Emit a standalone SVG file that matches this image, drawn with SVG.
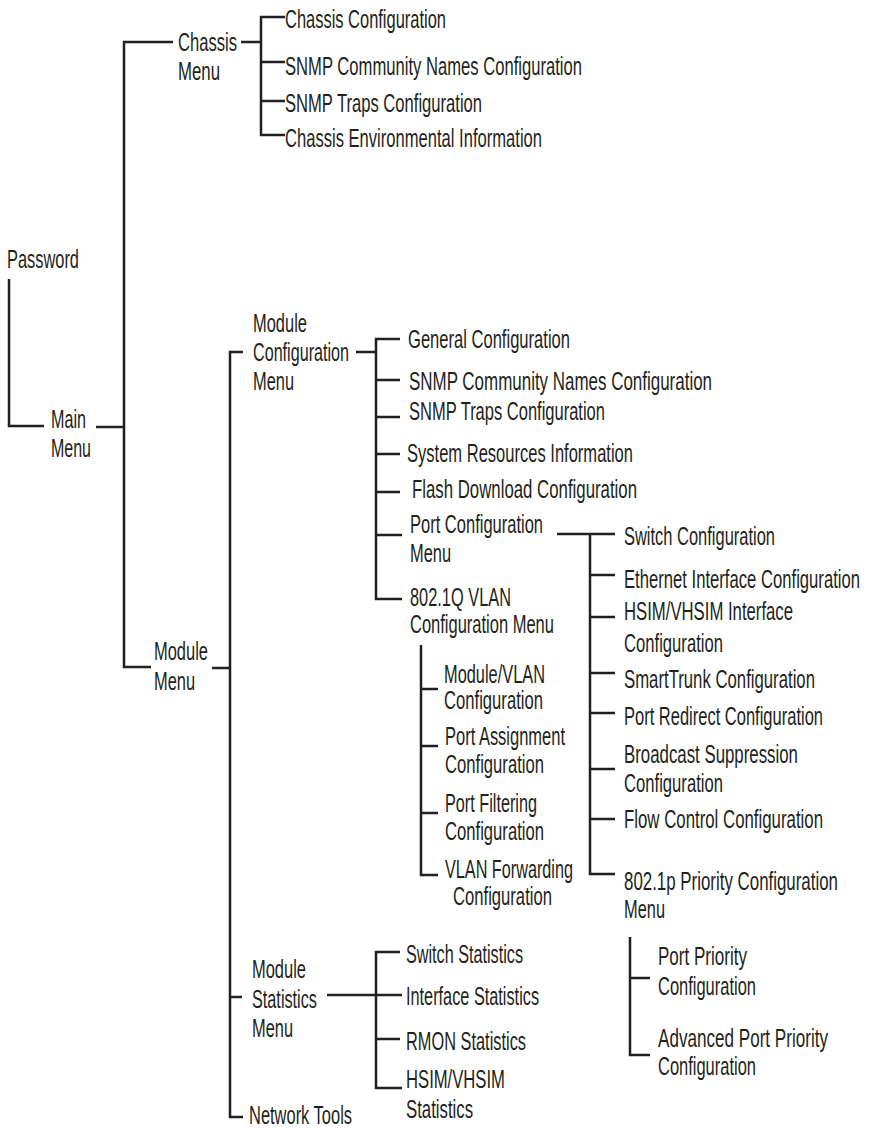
<svg xmlns="http://www.w3.org/2000/svg" width="871" height="1128" viewBox="0 0 871 1128">
<style>
.t { font-family: "Liberation Sans", Arial, Helvetica, sans-serif; font-size: 25px; fill: #231f20; }
.c path { stroke: #231f20; stroke-width: 2.5; fill: none; stroke-linecap: butt; stroke-linejoin: miter; }
</style>
<rect width="871" height="1128" fill="#ffffff"/>
<g id="connectors" class="c">
<path d="M9,279 V426 H44"/>
<path d="M96,427 H124"/>
<path d="M173,42 H124 V667 H151"/>
<path d="M241,42 H261"/>
<path d="M285,17 H261 V135 H285 M261,62 H285 M261,101 H285"/>
<path d="M212,668 H230"/>
<path d="M243,352 H230 V1117 H243 M230,997 H242"/>
<path d="M356,352 H376"/>
<path d="M400,339 H376 V599 H402 M376,380 H400 M376,417 H400 M376,454 H400 M376,492 H400 M376,535 H402"/>
<path d="M557,534 H615 M590,534 V874 H615 M590,575 H615 M590,617 H615 M590,673 H615 M590,713 H615 M590,769 H615 M590,819 H615"/>
<path d="M421,645 V875 H438 M421,689 H438 M421,746 H438 M421,813 H438"/>
<path d="M630,937 V1055 H650 M630,978 H650"/>
<path d="M327,995 H402 M400,952 H376 V1088 H402 M376,1039 H400"/>
</g>
<g id="password"><text class="t" transform="translate(7,0) scale(0.655,1)" x="0" y="268" textLength="109.9" lengthAdjust="spacingAndGlyphs">Password</text></g>
<g id="main-menu"><text class="t" transform="translate(51,0) scale(0.655,1)"><tspan x="0" y="428" textLength="53.4" lengthAdjust="spacingAndGlyphs">Main</tspan><tspan x="0" y="457" textLength="61.1" lengthAdjust="spacingAndGlyphs">Menu</tspan></text></g>
<g id="chassis-menu"><text class="t" transform="translate(178,0) scale(0.655,1)"><tspan x="0" y="51" textLength="90.1" lengthAdjust="spacingAndGlyphs">Chassis</tspan><tspan x="0" y="80" textLength="64.1" lengthAdjust="spacingAndGlyphs">Menu</tspan></text></g>
<g id="chassis-config"><text class="t" transform="translate(285,0) scale(0.655,1)" x="0" y="28" textLength="245.8" lengthAdjust="spacingAndGlyphs">Chassis Configuration</text></g>
<g id="chassis-snmp-community"><text class="t" transform="translate(285,0) scale(0.655,1)" x="0" y="75" textLength="453.4" lengthAdjust="spacingAndGlyphs">SNMP Community Names Configuration</text></g>
<g id="chassis-snmp-traps"><text class="t" transform="translate(285,0) scale(0.655,1)" x="0" y="112" textLength="300.8" lengthAdjust="spacingAndGlyphs">SNMP Traps Configuration</text></g>
<g id="chassis-env"><text class="t" transform="translate(285,0) scale(0.655,1)" x="0" y="147" textLength="392.4" lengthAdjust="spacingAndGlyphs">Chassis Environmental Information</text></g>
<g id="module-menu"><text class="t" transform="translate(154,0) scale(0.655,1)"><tspan x="0" y="660" textLength="82.4" lengthAdjust="spacingAndGlyphs">Module</tspan><tspan x="0" y="690" textLength="62.6" lengthAdjust="spacingAndGlyphs">Menu</tspan></text></g>
<g id="module-config-menu"><text class="t" transform="translate(253,0) scale(0.655,1)"><tspan x="0" y="332" textLength="82.4" lengthAdjust="spacingAndGlyphs">Module</tspan><tspan x="0" y="361" textLength="146.6" lengthAdjust="spacingAndGlyphs">Configuration</tspan><tspan x="0" y="390" textLength="62.6" lengthAdjust="spacingAndGlyphs">Menu</tspan></text></g>
<g id="general-config"><text class="t" transform="translate(408,0) scale(0.655,1)" x="0" y="348" textLength="247.3" lengthAdjust="spacingAndGlyphs">General Configuration</text></g>
<g id="module-snmp-community"><text class="t" transform="translate(409,0) scale(0.655,1)" x="0" y="390" textLength="462.6" lengthAdjust="spacingAndGlyphs">SNMP Community Names Configuration</text></g>
<g id="module-snmp-traps"><text class="t" transform="translate(409,0) scale(0.655,1)" x="0" y="420" textLength="299.2" lengthAdjust="spacingAndGlyphs">SNMP Traps Configuration</text></g>
<g id="system-resources"><text class="t" transform="translate(407,0) scale(0.655,1)" x="0" y="462" textLength="345" lengthAdjust="spacingAndGlyphs">System Resources Information</text></g>
<g id="flash-download"><text class="t" transform="translate(412,0) scale(0.655,1)" x="0" y="498" textLength="343.5" lengthAdjust="spacingAndGlyphs">Flash Download Configuration</text></g>
<g id="port-config-menu"><text class="t" transform="translate(410,0) scale(0.655,1)"><tspan x="0" y="533" textLength="203.1" lengthAdjust="spacingAndGlyphs">Port Configuration</tspan><tspan x="0" y="562" textLength="62.6" lengthAdjust="spacingAndGlyphs">Menu</tspan></text></g>
<g id="vlan-config-menu"><text class="t" transform="translate(410,0) scale(0.655,1)"><tspan x="0" y="606" textLength="154.2" lengthAdjust="spacingAndGlyphs">802.1Q VLAN</tspan><tspan x="0" y="633" textLength="219.8" lengthAdjust="spacingAndGlyphs">Configuration Menu</tspan></text></g>
<g id="switch-config"><text class="t" transform="translate(624,0) scale(0.655,1)" x="0" y="545" textLength="230.5" lengthAdjust="spacingAndGlyphs">Switch Configuration</text></g>
<g id="ethernet-config"><text class="t" transform="translate(624,0) scale(0.655,1)" x="0" y="588" textLength="360.3" lengthAdjust="spacingAndGlyphs">Ethernet Interface Configuration</text></g>
<g id="hsim-interface-config"><text class="t" transform="translate(624,0) scale(0.655,1)"><tspan x="0" y="620" textLength="258" lengthAdjust="spacingAndGlyphs">HSIM/VHSIM Interface</tspan><tspan x="0" y="652" textLength="151.1" lengthAdjust="spacingAndGlyphs">Configuration</tspan></text></g>
<g id="smarttrunk-config"><text class="t" transform="translate(624,0) scale(0.655,1)" x="0" y="688" textLength="291.6" lengthAdjust="spacingAndGlyphs">SmartTrunk Configuration</text></g>
<g id="port-redirect-config"><text class="t" transform="translate(624,0) scale(0.655,1)" x="0" y="725" textLength="303.8" lengthAdjust="spacingAndGlyphs">Port Redirect Configuration</text></g>
<g id="broadcast-config"><text class="t" transform="translate(624,0) scale(0.655,1)"><tspan x="0" y="763" textLength="265.6" lengthAdjust="spacingAndGlyphs">Broadcast Suppression</tspan><tspan x="0" y="792" textLength="151.1" lengthAdjust="spacingAndGlyphs">Configuration</tspan></text></g>
<g id="flow-control-config"><text class="t" transform="translate(624,0) scale(0.655,1)" x="0" y="828" textLength="303.8" lengthAdjust="spacingAndGlyphs">Flow Control Configuration</text></g>
<g id="priority-config-menu"><text class="t" transform="translate(624,0) scale(0.655,1)"><tspan x="0" y="890" textLength="326.7" lengthAdjust="spacingAndGlyphs">802.1p Priority Configuration</tspan><tspan x="0" y="918" textLength="62.6" lengthAdjust="spacingAndGlyphs">Menu</tspan></text></g>
<g id="module-vlan-config"><text class="t" transform="translate(444,0) scale(0.655,1)"><tspan x="0" y="683" textLength="154.2" lengthAdjust="spacingAndGlyphs">Module/VLAN</tspan><tspan x="0" y="709" textLength="151.1" lengthAdjust="spacingAndGlyphs">Configuration</tspan></text></g>
<g id="port-assignment-config"><text class="t" transform="translate(445,0) scale(0.655,1)"><tspan x="0" y="745" textLength="183.2" lengthAdjust="spacingAndGlyphs">Port Assignment</tspan><tspan x="0" y="773" textLength="151.1" lengthAdjust="spacingAndGlyphs">Configuration</tspan></text></g>
<g id="port-filtering-config"><text class="t" transform="translate(445,0) scale(0.655,1)"><tspan x="0" y="812" textLength="140.5" lengthAdjust="spacingAndGlyphs">Port Filtering</tspan><tspan x="0" y="840" textLength="151.1" lengthAdjust="spacingAndGlyphs">Configuration</tspan></text></g>
<g id="vlan-forwarding-config"><text class="t" transform="translate(445,0) scale(0.655,1)"><tspan x="0" y="878" textLength="195.4" lengthAdjust="spacingAndGlyphs">VLAN Forwarding</tspan><tspan x="12.2" y="905" textLength="151.1" lengthAdjust="spacingAndGlyphs">Configuration</tspan></text></g>
<g id="port-priority-config"><text class="t" transform="translate(658,0) scale(0.655,1)"><tspan x="0" y="965" textLength="135.9" lengthAdjust="spacingAndGlyphs">Port Priority</tspan><tspan x="0" y="995" textLength="149.6" lengthAdjust="spacingAndGlyphs">Configuration</tspan></text></g>
<g id="advanced-port-priority-config"><text class="t" transform="translate(658,0) scale(0.655,1)"><tspan x="0" y="1047" textLength="259.5" lengthAdjust="spacingAndGlyphs">Advanced Port Priority</tspan><tspan x="0" y="1075" textLength="149.6" lengthAdjust="spacingAndGlyphs">Configuration</tspan></text></g>
<g id="module-statistics-menu"><text class="t" transform="translate(252,0) scale(0.655,1)"><tspan x="0" y="978" textLength="82.4" lengthAdjust="spacingAndGlyphs">Module</tspan><tspan x="0" y="1008" textLength="99.2" lengthAdjust="spacingAndGlyphs">Statistics</tspan><tspan x="0" y="1037" textLength="62.6" lengthAdjust="spacingAndGlyphs">Menu</tspan></text></g>
<g id="switch-statistics"><text class="t" transform="translate(406,0) scale(0.655,1)" x="0" y="963" textLength="178.6" lengthAdjust="spacingAndGlyphs">Switch Statistics</text></g>
<g id="interface-statistics"><text class="t" transform="translate(406,0) scale(0.655,1)" x="0" y="1005" textLength="203.1" lengthAdjust="spacingAndGlyphs">Interface Statistics</text></g>
<g id="rmon-statistics"><text class="t" transform="translate(406,0) scale(0.655,1)" x="0" y="1050" textLength="183.2" lengthAdjust="spacingAndGlyphs">RMON Statistics</text></g>
<g id="hsim-statistics"><text class="t" transform="translate(406,0) scale(0.655,1)"><tspan x="0" y="1088" textLength="151.1" lengthAdjust="spacingAndGlyphs">HSIM/VHSIM</tspan><tspan x="0" y="1118" textLength="102.3" lengthAdjust="spacingAndGlyphs">Statistics</tspan></text></g>
<g id="network-tools"><text class="t" transform="translate(249,0) scale(0.655,1)" x="0" y="1124" textLength="157.3" lengthAdjust="spacingAndGlyphs">Network Tools</text></g>
</svg>
